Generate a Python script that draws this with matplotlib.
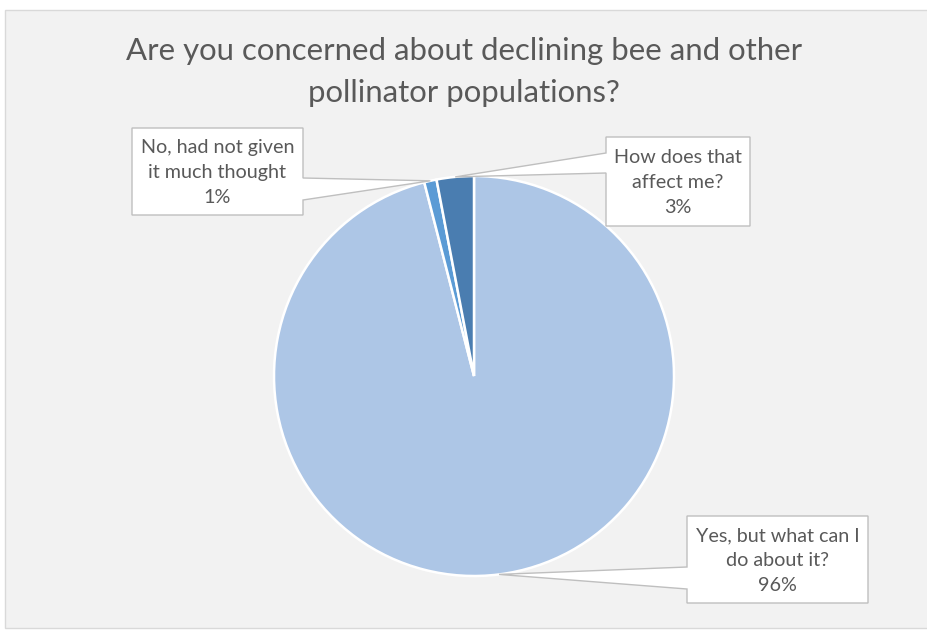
import numpy as np
import matplotlib
matplotlib.use("Agg")
import matplotlib.pyplot as plt
from matplotlib.patches import Rectangle, Polygon

title = "Are you concerned about declining bee and other\npollinator populations?"
labels = ["Yes, but what can I\ndo about it?", "No, had not given\nit much thought", "How does that\naffect me?"]
values = [96, 1, 3]
colors = ["#ADC6E6", "#5B9BD5", "#4A7DB0"]

# callout boxes in pixels: left, top, right, bottom, side of the pointer, pointer base (y0, y1)
boxes = [
    (687, 516, 868, 603, "left", (567, 589)),
    (132, 128, 303, 215, "right", (178, 200)),
    (606, 137, 750, 226, "left", (153, 173)),
]

W, H = 928, 631
plt.rcParams["font.family"] = ["Lato", "DejaVu Sans"]
fig = plt.figure(figsize=(W / 100, H / 100), dpi=100)
ax = fig.add_axes([0, 0, 1, 1])


def py(y):
    return H - y


# chart area
ax.add_patch(Rectangle((5, py(628)), W, 618, facecolor="#F2F2F2", edgecolor="#D9D9D9", lw=1, zorder=0))

cx, cy, r = 474, 376, 200
wedges, _ = ax.pie(values, colors=colors, startangle=90, counterclock=False,
                   center=(cx, py(cy)), radius=r, frame=True,
                   wedgeprops=dict(edgecolor="white", linewidth=1.8))

total = sum(values)
for w, lab, v, b in zip(wedges, labels, values, boxes):
    mid = np.deg2rad((w.theta1 + w.theta2) / 2)
    tx, ty = cx + r * np.cos(mid), cy - r * np.sin(mid)
    x0, y0, x1, y1, side, (b0, b1) = b
    if side == "left":
        pts = [(x0, y0), (x1, y0), (x1, y1), (x0, y1), (x0, b1), (tx, ty), (x0, b0)]
    else:
        pts = [(x0, y0), (x1, y0), (x1, b0), (tx, ty), (x1, b1), (x1, y1), (x0, y1)]
    ax.add_patch(Polygon([(x, py(y)) for x, y in pts], closed=True, facecolor="white",
                         edgecolor="#BFBFBF", lw=1, zorder=5))
    ax.text((x0 + x1) / 2, py((y0 + y1) / 2 + 1), f"{lab}\n{round(v / total * 100)}%",
            ha="center", va="center", fontsize=14.2, color="#595959", linespacing=1.55, zorder=6)

ax.text(W / 2, py(72), title, ha="center", va="center", fontsize=22.4, color="#595959", linespacing=1.62)

ax.set_xlim(0, W)
ax.set_ylim(0, H)
ax.set_aspect("auto")
ax.axis("off")
fig.savefig("out.png", dpi=100, facecolor="white")
